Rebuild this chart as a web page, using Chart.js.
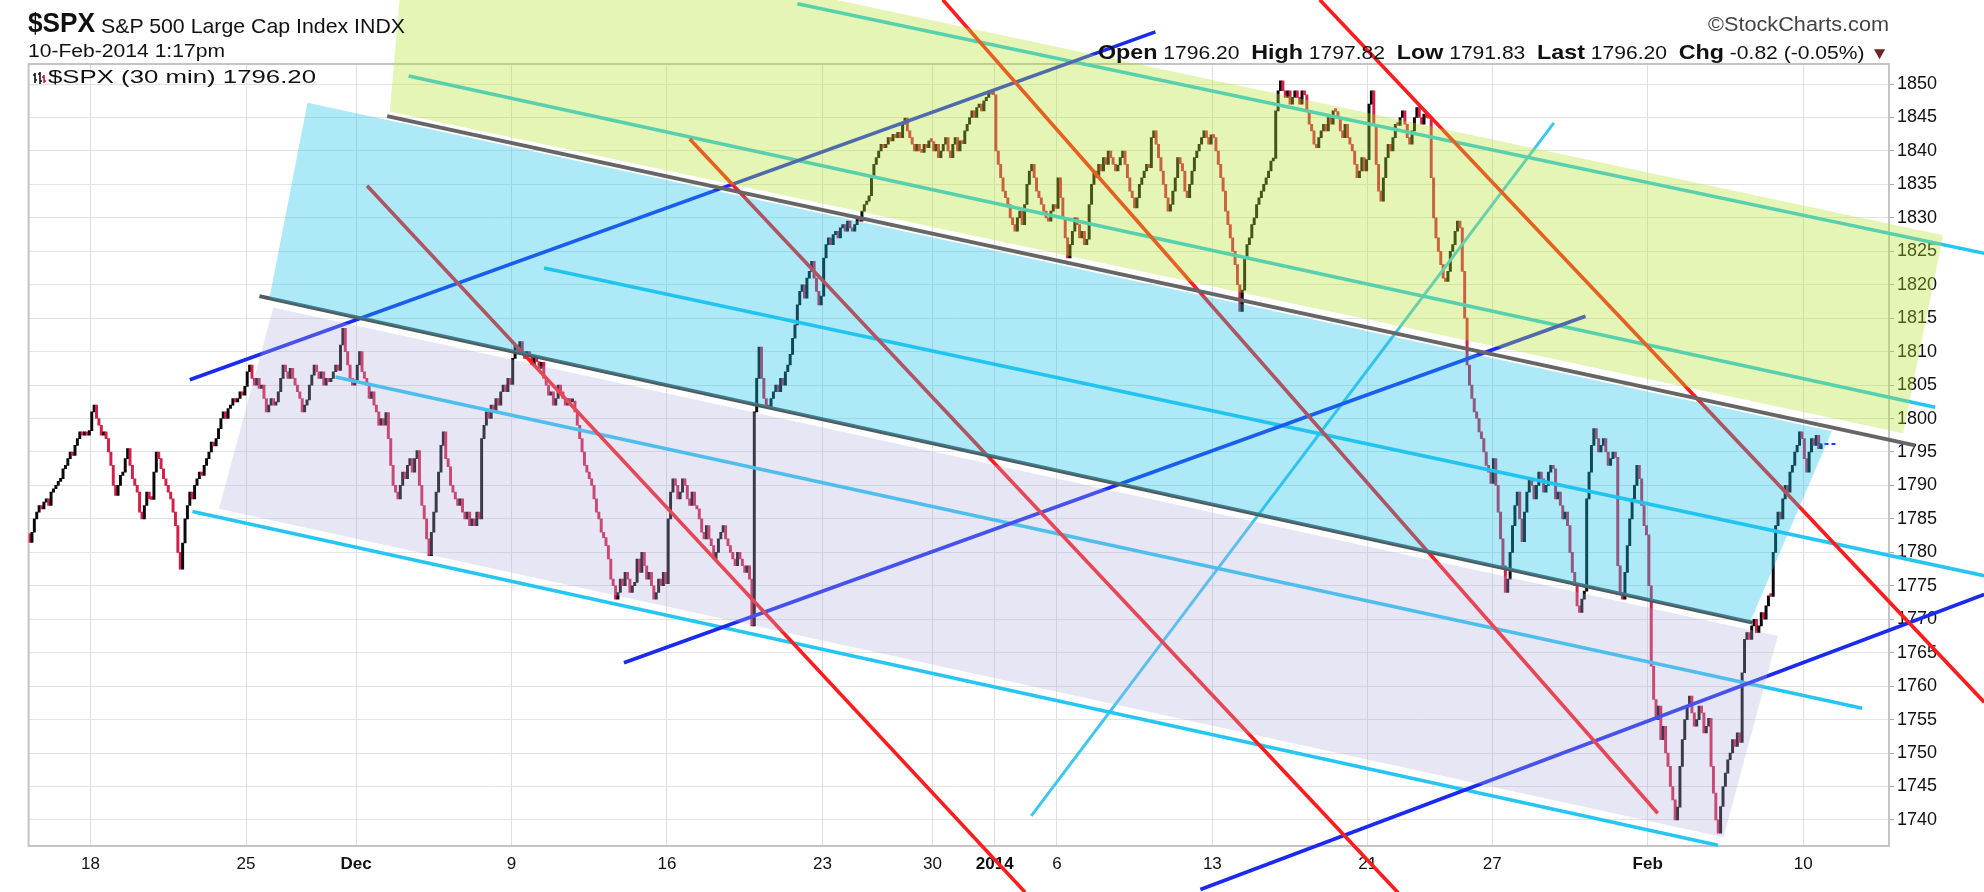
<!DOCTYPE html>
<html>
<head>
<meta charset="utf-8">
<script src="https://cdn.jsdelivr.net/npm/chart.js@4.4.1/dist/chart.umd.min.js"></script>
<style>
html,body{margin:0;padding:0;background:#fff;}
#wrap{position:relative;width:1984px;height:892px;overflow:hidden;background:#fff;}
#c{position:absolute;left:0;top:0;}
.t{position:absolute;white-space:nowrap;font-family:"Liberation Sans",Arial,sans-serif;color:#111;transform-origin:0 0;line-height:1;}
.t b{font-weight:bold;}
</style>
</head>
<body>
<div id="wrap">
<canvas id="c" width="1984" height="892"></canvas>
<div class="t" style="left:28px;top:9px;font-size:28px;font-weight:bold;" data-w="67">$SPX</div>
<div class="t" style="left:101px;top:15px;font-size:21px;" data-w="304">S&amp;P 500 Large Cap Index INDX</div>
<div class="t" style="left:28px;top:42px;font-size:18px;" data-w="197">10-Feb-2014 1:17pm</div>
<div class="t" style="left:0;top:14px;font-size:20px;color:#444;" data-w="181" data-r="1889">&copy;StockCharts.com</div>
<div class="t" style="left:0;top:41px;font-size:19px;" data-w="791" data-r="1889"><b style="font-size:21px">Open</b> 1796.20 &nbsp;<b style="font-size:21px">High</b> 1797.82 &nbsp;<b style="font-size:21px">Low</b> 1791.83 &nbsp;<b style="font-size:21px">Last</b> 1796.20 &nbsp;<b style="font-size:21px">Chg</b> -0.82 (-0.05%) <span style="color:#6e2424;font-size:17px">&#9660;</span></div>
<svg style="position:absolute;left:33px;top:71px" width="13" height="14" viewBox="0 0 13 14">
  <path d="M2 2V12M0 4H2M2 9H4" stroke="#111" stroke-width="1.6" fill="none"/>
  <path d="M7 1V13M5 3H7M7 10H9" stroke="#111" stroke-width="1.6" fill="none"/>
  <path d="M11 4V12M9 6H11M11 10H13" stroke="#c0203f" stroke-width="1.6" fill="none"/>
</svg>
<div class="t" style="left:48px;top:68px;font-size:18px;" data-w="268">$SPX (30 min) 1796.20</div>
</div>
<script>
// ---------------- DATA ----------------
const dayDates = [
  '2013-11-14','2013-11-15','2013-11-18','2013-11-19','2013-11-20','2013-11-21','2013-11-22','2013-11-25','2013-11-26','2013-11-27','2013-11-29',
  '2013-12-02','2013-12-03','2013-12-04','2013-12-05','2013-12-06','2013-12-09','2013-12-10','2013-12-11','2013-12-12','2013-12-13',
  '2013-12-16','2013-12-17','2013-12-18','2013-12-19','2013-12-20','2013-12-23','2013-12-24','2013-12-26','2013-12-27','2013-12-30','2013-12-31',
  '2014-01-02','2014-01-03','2014-01-06','2014-01-07','2014-01-08','2014-01-09','2014-01-10','2014-01-13','2014-01-14','2014-01-15','2014-01-16','2014-01-17',
  '2014-01-21','2014-01-22','2014-01-23','2014-01-24','2014-01-27','2014-01-28','2014-01-29','2014-01-30','2014-01-31',
  '2014-02-03','2014-02-04','2014-02-05','2014-02-06','2014-02-07','2014-02-10'
];
const halfDays = ['2013-11-29','2013-12-24'];
const barsFullDay = 13, barsHalfDay = 7;

const tickDates  = ['2013-11-18','2013-11-25','2013-12-02','2013-12-09','2013-12-16','2013-12-23','2013-12-30','2014-01-02','2014-01-06','2014-01-13','2014-01-21','2014-01-27','2014-02-03','2014-02-10'];
const tickLabels = ['18','25','Dec','9','16','23','30','2014','6','13','21','27','Feb','10'];
const boldTicks  = ['Dec','2014','Feb'];
const yTickValues = [1740,1745,1750,1755,1760,1765,1770,1775,1780,1785,1790,1795,1800,1805,1810,1815,1820,1825,1830,1835,1840,1845,1850];

const firstOpen = 1782.75;
// 30-minute closes, one row per trading day
const novCloses = [
  [1781.5,1783,1785,1786,1787,1786.5,1787.5,1788,1787,1789,1789.5,1790,1790.6],
  [1791,1792.5,1793,1794,1795,1794.5,1796,1797,1798,1797.5,1798,1797.5,1798.2],
  [1801,1802,1800,1799,1797.5,1798,1797,1795,1793,1790,1788.5,1790,1791.5],
  [1792,1794,1795.5,1793,1791,1790,1789,1786,1785,1787,1789,1788,1787.9],
  [1792,1795,1794,1792.5,1791,1790,1789,1788,1786,1784,1780,1777.5,1781.4],
  [1785,1787,1789,1788,1790,1791,1792,1791.5,1793,1794,1795,1796.5,1795.9],
  [1797,1798.5,1800,1801,1800,1801.5,1802,1803,1802.5,1803,1804,1803.5,1804.8],
  [1807,1808,1806,1805,1806,1804.5,1805,1803,1801,1802,1803,1802,1802.5],
  [1804,1806,1808,1807,1806,1807.5,1806,1805,1804,1803,1801,1802,1802.8],
  [1805,1806.5,1808,1807,1806,1807,1805,1806,1805.5,1806,1807,1808,1807.2],
  [1811,1813.5,1810,1808,1806,1805,1805.8]
].flat();
const decCloses = [
  [1808,1810,1807,1806,1805,1803,1804,1802,1801,1799,1800,1799,1800.9],
  [1797,1793,1790,1789,1788,1790,1792,1791,1793,1794,1792,1794,1795.2],
  [1790,1787,1785,1782,1779.5,1783,1786,1789,1792,1796,1798,1794,1792.8],
  [1790,1789,1788,1787,1788,1786,1785,1786,1784,1785,1784,1786,1785],
  [1797,1799,1801,1800,1802,1801,1803,1802,1804,1805,1804,1806,1805.1],
  [1809,1811,1810,1811.5,1810,1809,1810,1809.5,1808,1809,1808.5,1807.5,1808.4],
  [1806,1805,1803.5,1804,1802,1803,1805,1804,1803,1802,1803,1802.5,1802.6],
  [1801,1799,1797,1795,1793,1792,1791,1790,1788,1786,1785,1783,1782.2],
  [1781,1779,1776,1775,1773,1774,1776,1775,1777,1776,1774,1775,1775.5],
  [1779,1777,1780,1778,1776,1777,1775,1773,1774,1776,1775,1777,1775.3],
  [1785,1789,1791,1790,1788,1789,1791,1790,1788,1787,1789,1787,1786.5],
  [1785,1783,1782,1784,1782,1781,1779,1780,1782,1783,1784,1782,1781],
  [1780,1779,1778,1780,1779,1778,1777,1778,1776,1769,1801,1806,1810.7],
  [1806,1803,1802,1801.5,1803,1804,1805,1804,1806,1805,1807,1808,1809.6],
  [1812,1814,1817,1819,1820,1818,1821,1822,1823.5,1821,1819,1817,1818.3],
  [1824,1826,1827,1826,1827.5,1828,1827,1828.5,1829,1828,1829.5,1828.5,1828],
  [1829,1830,1829.5,1831,1832,1832.5,1833.3],
  [1836,1838,1839,1840,1841,1840.5,1841,1842,1841.5,1842.5,1842,1842.8,1842],
  [1844,1844.9,1843,1842,1841,1840,1841,1840,1839.8,1841,1840.5,1841.5,1841.4],
  [1840,1841,1839,1840,1841,1842,1840,1839,1841,1842,1840,1841.5,1841.1],
  [1843,1844,1845,1846,1845,1846.5,1847,1846,1847.5,1848,1849,1848.5,1848.4]
].flat();
const janCloses = [
  [1840,1838,1836,1834,1833,1832,1830,1829,1828,1830,1831,1829,1832],
  [1835,1837,1838,1836,1834,1833,1832,1831,1830,1829.5,1831,1832,1831.4],
  [1836,1833,1830,1827,1824,1826,1828,1830,1829,1827,1828,1826,1826.8],
  [1832,1835,1837,1836,1838,1837,1839,1838,1840,1839,1838,1837,1837.9],
  [1839,1840,1838,1836,1834,1833,1831.5,1833,1835,1836,1837,1838,1837.5],
  [1842,1843,1841,1839,1837,1835,1833,1831,1832,1834,1836,1839,1838.1],
  [1837,1834,1833,1835,1837,1839,1840,1841,1842,1843,1842,1841,1842.4],
  [1842,1840,1838,1836,1834,1831,1829,1827,1825,1823,1820,1816,1819.2],
  [1824,1826,1827,1829,1830,1832,1833,1834,1835,1836,1837,1838.5,1838.9],
  [1846,1849,1850.5,1849,1848,1849,1847,1848,1849,1848,1847,1849,1848.4],
  [1846,1844,1843,1841,1840.5,1842,1843,1844,1843,1845,1844,1846,1845.9],
  [1845,1843,1842,1844,1842,1841,1840,1838,1836,1837,1839,1837,1838.7],
  [1847,1849,1844,1838,1834,1832.5,1836,1839,1841,1840,1842,1844,1843.8],
  [1845,1846,1844,1842,1841,1843,1845,1846.5,1845,1844,1845.5,1845,1844.9],
  [1836,1830,1827,1825,1823,1821,1820.5,1822,1825,1826,1828,1829.5,1828.5],
  [1822,1815,1808,1805,1803,1801,1800,1798,1797,1795,1793,1792,1790.3],
  [1794,1790,1786,1782,1778,1774,1776,1780,1784,1787,1789,1785,1781.6],
  [1786,1789,1791,1790,1788,1790,1792,1791,1789,1790,1792,1793,1792.5],
  [1788,1789,1787,1785,1786,1784,1780,1777,1775,1772,1771,1773,1774.2],
  [1788,1792,1796,1798.5,1797,1795,1796,1797,1795,1793,1794,1795,1794.2],
  [1778,1774,1773,1777,1781,1785,1788,1790,1793,1791,1787,1784,1782.6]
].flat();
const febCloses = [
  [1775,1763,1758,1755,1757,1752,1754,1750,1748,1745,1743,1740,1741.9],
  [1748,1752,1755,1757,1758.5,1756,1754,1755,1757,1756,1753,1754,1755.2],
  [1748,1744,1740,1738,1742,1745,1747,1749,1750,1752,1751,1753,1751.6],
  [1762,1767,1768,1767,1769,1770,1768,1769,1771,1770,1772,1773.5,1773.4],
  [1780,1784,1786,1785,1788,1790,1789,1792,1793,1795,1796,1798,1797],
  [1794,1792,1795,1797,1796,1797.5,1795.5,1796.2]
].flat();
const lastPrice = 1796.20;

// Drawn annotations, as [bar index, price] end points
const grayLines = [
  [[150.0,1845.2],[788.8,1796.0]],
  [[96.6,1818.3],[720.9,1769.5]]
];
const cyanLines = [
  [[321.5,1862.0],[817.7,1824.7]],
  [[159.0,1851.2],[797.2,1801.7]],
  [[215.6,1822.5],[817.7,1776.5]],
  [[128.4,1806.2],[766.7,1756.7]],
  [[68.6,1786.1],[706.4,1736.2]]
];
const steepCyanLine = [[419.3,1740.6],[637.8,1844.2]];
const blueLines = [
  [[67.5,1805.8],[471.2,1857.8]],
  [[249.0,1763.5],[651.0,1815.3]],
  [[490.0,1729.6],[817.7,1773.7]]
];
const redLines = [
  [[141.6,1834.8],[416.7,1729.2]],
  [[276.5,1841.8],[572.7,1729.1]],
  [[382.3,1862.6],[681.2,1741.0]],
  [[539.9,1862.6],[817.7,1757.6]]
];
const greenZone    = [[158.5,1876.2],[151.1,1845.9],[783.8,1797.8],[800.5,1827.4]];
const blueZone     = [[116.7,1847.2],[100.8,1818.0],[719.8,1769.6],[754.0,1798.1]];
const lavenderZone = [[102.4,1816.6],[79.7,1786.5],[708.7,1737.4],[731.4,1767.5]];

// ---------------- BUILD ----------------
const dayStart = {};
let cursor = 0;
dayDates.forEach(d => { dayStart[d] = cursor; cursor += halfDays.includes(d) ? barsHalfDay : barsFullDay; });
const tickPos = tickDates.map(d => dayStart[d]);

const closes = [...novCloses, ...decCloses, ...janCloses, ...febCloses];
const UP = '#0a0a0a', DOWN = '#d41f48';
const barData = [], barColors = [];
let prev = firstOpen;
closes.forEach((c, i) => {
  barData.push({x: i + 0.5, y: [Math.min(prev, c), Math.max(prev, c)]});
  barColors.push(c >= prev ? UP : DOWN);
  prev = c;
});
const lastBar = closes.length;

function fontAvailable(name) {
  const c = document.createElement('canvas').getContext('2d');
  const s = 'Dec 2014 Feb 1850 abc';
  c.font = '40px monospace'; const a = c.measureText(s).width;
  c.font = '40px "' + name + '", monospace'; const b = c.measureText(s).width;
  return Math.abs(a - b) > 0.5;
}
const hasNarrow = fontAvailable('Liberation Sans Narrow');
const xFontFamily = hasNarrow ? '"Liberation Sans Narrow"' : '"Liberation Sans", Arial';
const xFontSize = hasNarrow ? 19 : 17;

function lineSet(pts, color, width, extra) {
  return Object.assign({
    type: 'line',
    data: pts.map(p => ({x: p[0], y: p[1]})),
    borderColor: color, borderWidth: width, pointRadius: 0, fill: false,
    tension: 0, clip: false, order: 2, borderCapStyle: 'butt'
  }, extra || {});
}

const datasets = [];
datasets.push(lineSet([[lastBar - 2, lastPrice],[lastBar + 6, lastPrice]], '#2233ff', 2, {borderDash: [4, 3], order: 0}));
grayLines.forEach((l, i) => datasets.push(lineSet(l, i === 0 ? '#666666' : '#525a5e', 3.8, {order: 1})));
redLines.forEach(l => datasets.push(lineSet(l, '#ff1c1c', 3.6)));
blueLines.forEach(l => datasets.push(lineSet(l, '#1a2bee', 3.6)));
cyanLines.forEach(l => datasets.push(lineSet(l, '#27c6f2', 3.6)));
datasets.push(lineSet(steepCyanLine, '#3fc6ef', 3));
datasets.push({
  type: 'bar', data: barData, backgroundColor: barColors, borderWidth: 0,
  barThickness: 2.3, minBarLength: 3, grouped: false, order: 10
});

const channels = [
  {pts: greenZone, color: 'rgba(181,226,44,0.35)'},
  {pts: blueZone, color: 'rgba(21,192,232,0.35)'},
  {pts: lavenderZone, color: 'rgba(172,172,222,0.30)'}
];

const framePlugin = {
  id: 'frame',
  beforeDatasetsDraw(chart) {
    const {ctx, chartArea: a} = chart;
    ctx.save();
    ctx.strokeStyle = '#c4c4c4'; ctx.lineWidth = 2;
    ctx.strokeRect(a.left, a.top, a.right - a.left, a.bottom - a.top);
    ctx.restore();
  }
};
const channelPlugin = {
  id: 'channels',
  afterDatasetsDraw(chart) {
    const {ctx} = chart; const xs = chart.scales.x, ys = chart.scales.y;
    ctx.save();
    channels.forEach(ch => {
      ctx.beginPath();
      ch.pts.forEach((p, i) => {
        const px = xs.getPixelForValue(p[0]), py = ys.getPixelForValue(p[1]);
        if (i) ctx.lineTo(px, py); else ctx.moveTo(px, py);
      });
      ctx.closePath();
      ctx.fillStyle = ch.color;
      ctx.fill();
    });
    ctx.restore();
  }
};

new Chart(document.getElementById('c'), {
  type: 'bar',
  data: {datasets},
  options: {
    responsive: false, animation: false, devicePixelRatio: 1,
    layout: {padding: {left: 28.6, top: 64, right: 0, bottom: 0}},
    plugins: {legend: {display: false}, tooltip: {enabled: false}},
    scales: {
      x: {
        type: 'linear', min: 0.1, max: 777.9, offset: false,
        grid: {color: '#dedede', lineWidth: 1, drawTicks: false, offset: false},
        border: {display: false},
        afterBuildTicks: s => { s.ticks = tickPos.map(v => ({value: v})); },
        afterFit: s => { s.height = 46; },
        ticks: {
          autoSkip: false, maxRotation: 0, minRotation: 0, padding: 8, color: '#111',
          callback: (v, i) => tickLabels[i],
          font: c => ({family: xFontFamily, size: xFontSize, weight: boldTicks.includes(tickLabels[c.index]) ? 'bold' : 'normal'})
        }
      },
      y: {
        position: 'right', min: 1736.1, max: 1853,
        grid: {color: '#e3e3e3', lineWidth: 1, tickLength: 5, tickColor: '#a8a8a8'},
        border: {display: false},
        afterBuildTicks: s => { s.ticks = yTickValues.map(v => ({value: v})); },
        afterFit: s => { s.width = 95; },
        ticks: {padding: 3, color: '#111', font: {family: '"Liberation Sans", Arial', size: 18}, callback: v => String(v)}
      }
    }
  },
  plugins: [framePlugin, channelPlugin]
});

// fit header texts to the widths seen in the reference
document.querySelectorAll('.t[data-w]').forEach(el => {
  const w = el.getBoundingClientRect().width;
  const target = +el.dataset.w;
  el.style.transform = 'scaleX(' + (target / w) + ')';
  if (el.dataset.r) el.style.left = (+el.dataset.r - target) + 'px';
});
</script>
</body>
</html>
